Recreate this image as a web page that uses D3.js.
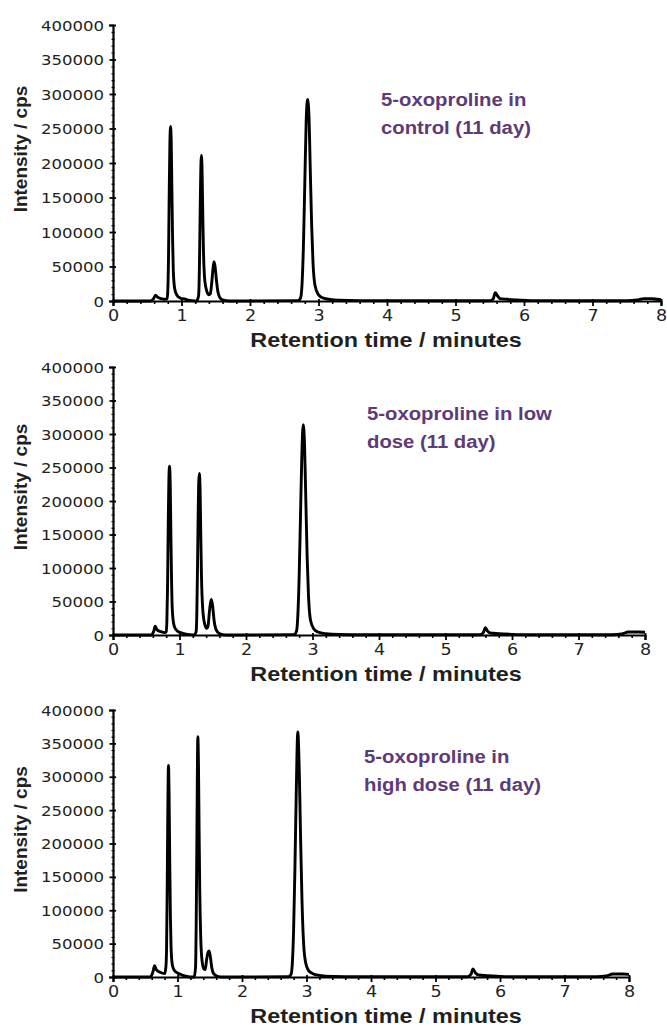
<!DOCTYPE html>
<html>
<head>
<meta charset="utf-8">
<script src="https://cdn.jsdelivr.net/npm/d3@7"></script>
<style>
  html, body { margin: 0; padding: 0; background: #fff; }
  svg { display: block; }
</style>
</head>
<body>
<svg id="chart" width="667" height="1029"></svg>
<script>
// ---------- DATA ----------
const panelLabels = [
  ["5-oxoproline in", "control (11 day)"],
  ["5-oxoproline in low", "dose (11 day)"],
  ["5-oxoproline in", "high dose (11 day)"]
];
const xTickValues = [0, 1, 2, 3, 4, 5, 6, 7, 8];
const yTickValues = [0, 50000, 100000, 150000, 200000, 250000, 300000, 350000, 400000];
const xTitle = "Retention time / minutes";
const yTitle = "Intensity / cps";

// control (11 day)
const timeControl = [0, 0.55, 0.59, 0.62, 0.65, 0.70, 0.76, 0.79, 0.80, 0.81, 0.82, 0.83, 0.84, 0.85, 0.86, 0.87, 0.88, 0.90, 0.93, 0.97, 1.00, 1.03, 1.07, 1.15, 1.22,
  1.25, 1.26, 1.27, 1.28, 1.29, 1.30, 1.31, 1.32, 1.34, 1.37, 1.40, 1.42, 1.44, 1.46, 1.475, 1.49, 1.51, 1.53, 1.56, 1.60, 1.70,
  2.70, 2.74, 2.76, 2.78, 2.80, 2.82, 2.84, 2.86, 2.88, 2.90, 2.92, 2.95, 3.00, 3.05, 3.15, 3.30, 3.60,
  5.50, 5.55, 5.58, 5.61, 5.65, 5.75, 5.90, 6.10, 7.50, 7.65, 7.75, 7.85, 7.95, 8.00];
const intensityControl = [0, 0, 3000, 8500, 5500, 3500, 2500, 3000, 15000, 60000, 150000, 225000, 253000, 230000, 160000, 90000, 45000, 18000, 9000, 5000, 3500, 3500, 2000, 500, 0,
  8000, 40000, 110000, 180000, 211000, 190000, 130000, 75000, 30000, 14000, 9000, 10000, 25000, 47000, 57000, 50000, 30000, 14000, 5000, 1500, 0,
  500, 5000, 25000, 80000, 170000, 260000, 292000, 270000, 190000, 110000, 55000, 22000, 9000, 5000, 2500, 1000, 500,
  300, 3000, 12000, 8000, 3500, 2500, 1500, 500, 300, 1500, 3500, 3500, 2500, 2000];

// low dose (11 day)
const timeLow = [0, 0.58, 0.61, 0.635, 0.66, 0.72, 0.78, 0.80, 0.81, 0.82, 0.83, 0.84, 0.85, 0.86, 0.87, 0.88, 0.89, 0.91, 0.94, 0.98, 1.05, 1.15, 1.22,
  1.25, 1.26, 1.27, 1.28, 1.29, 1.30, 1.31, 1.32, 1.33, 1.35, 1.38, 1.41, 1.43, 1.45, 1.48, 1.50, 1.52, 1.55, 1.60, 1.70,
  2.72, 2.76, 2.78, 2.80, 2.82, 2.84, 2.86, 2.88, 2.90, 2.92, 2.94, 2.97, 3.02, 3.08, 3.20, 3.40, 3.80,
  5.52, 5.57, 5.60, 5.63, 5.67, 5.80, 6.00, 6.30, 7.50, 7.65, 7.75, 7.90, 8.00];
const intensityLow = [0, 0, 5000, 13000, 8000, 5000, 3500, 5000, 20000, 70000, 160000, 230000, 252000, 228000, 155000, 85000, 42000, 18000, 9000, 5000, 2500, 500, 0,
  5000, 30000, 95000, 175000, 230000, 241000, 215000, 150000, 90000, 38000, 16000, 10000, 14000, 35000, 53000, 42000, 22000, 8000, 2000, 0,
  500, 6000, 30000, 90000, 180000, 270000, 314000, 285000, 200000, 115000, 58000, 22000, 9000, 4500, 2000, 800, 300,
  300, 4000, 11000, 6000, 3000, 2000, 1000, 300, 300, 1500, 4500, 4500, 4000];

// high dose (11 day)
const timeHigh = [0, 0.58, 0.62, 0.645, 0.67, 0.73, 0.80, 0.82, 0.83, 0.84, 0.85, 0.86, 0.87, 0.88, 0.89, 0.90, 0.92, 0.95, 1.00, 1.07, 1.15, 1.22,
  1.26, 1.28, 1.29, 1.30, 1.31, 1.315, 1.325, 1.335, 1.345, 1.36, 1.38, 1.41, 1.43, 1.45, 1.47, 1.49, 1.51, 1.53, 1.56, 1.62, 1.70,
  2.72, 2.76, 2.78, 2.80, 2.82, 2.84, 2.865, 2.89, 2.91, 2.93, 2.95, 2.98, 3.03, 3.10, 3.20, 3.40, 3.80,
  5.50, 5.55, 5.58, 5.62, 5.67, 5.80, 6.00, 6.30, 7.50, 7.65, 7.75, 7.90, 8.00];
const intensityHigh = [0, 0, 8000, 17000, 11000, 7000, 5000, 15000, 40000, 130000, 250000, 317000, 270000, 170000, 90000, 45000, 18000, 10000, 6000, 3000, 800, 0,
  0, 15000, 80000, 200000, 330000, 360000, 320000, 220000, 130000, 60000, 25000, 12000, 11000, 25000, 36000, 39000, 30000, 15000, 5000, 1000, 0,
  300, 4000, 20000, 70000, 160000, 270000, 367000, 300000, 200000, 115000, 60000, 25000, 10000, 5000, 2500, 800, 300,
  300, 4000, 12000, 6000, 3000, 2000, 1000, 300, 300, 1500, 4500, 4500, 4000];

const seriesTimes = [timeControl, timeLow, timeHigh];
const seriesIntensities = [intensityControl, intensityLow, intensityHigh];

// ---------- LAYOUT ----------
const panels = [
  { left: 113, right: 661, top: 25,  bottom: 301, labelX: 381, labelY: 106 },
  { left: 113, right: 645, top: 367, bottom: 635, labelX: 367, labelY: 420 },
  { left: 113, right: 629, top: 710, bottom: 977, labelX: 364, labelY: 763 }
];
const SX = 1.18;       // horizontal stretch of the original picture's text
const textColor = "#231f20";
const labelColor = "#5e3a78";

const svg = d3.select("#chart");
svg.append("rect").attr("width", 667).attr("height", 1029).attr("fill", "#fff");

panels.forEach((p, i) => {
  const x = d3.scaleLinear().domain([0, 8]).range([p.left, p.right]);
  const y = d3.scaleLinear().domain([0, 400000]).range([p.bottom, p.top]);
  const g = svg.append("g");

  // trace
  const pts = seriesTimes[i].map((t, k) => [t, seriesIntensities[i][k]]);
  g.append("path")
    .datum(pts)
    .attr("fill", "none")
    .attr("stroke", "#000")
    .attr("stroke-width", 2.9)
    .attr("stroke-linejoin", "round")
    .attr("d", d3.line().x(d => x(d[0])).y(d => y(d[1])).curve(d3.curveMonotoneX));

  // minor ticks
  const xMinor = d3.range(0, 8.0001, 0.2).filter(v => Math.abs(v - Math.round(v)) > 1e-6);
  const yMinor = d3.range(0, 400001, 10000).filter(v => v % 50000 !== 0);
  const gxMinor = g.append("g").attr("transform", `translate(0,${p.bottom})`)
    .call(d3.axisBottom(x).tickValues(xMinor).tickSize(3).tickFormat(""));
  gxMinor.select(".domain").remove();
  gxMinor.selectAll("line").attr("stroke", "#000").attr("stroke-width", 1.6);
  const gyMinor = g.append("g").attr("transform", `translate(${p.left},0)`)
    .call(d3.axisLeft(y).tickValues(yMinor).tickSize(2).tickFormat(""));
  gyMinor.select(".domain").remove();
  gyMinor.selectAll("line").attr("x1", 1.5).attr("x2", -1.5).attr("stroke", "#000").attr("stroke-width", 1.2);

  // x axis
  const gx = g.append("g").attr("transform", `translate(0,${p.bottom})`)
    .call(d3.axisBottom(x).tickValues(xTickValues).tickSizeOuter(0).tickSize(5));
  gx.select(".domain").attr("stroke", "#000").attr("stroke-width", 2.2);
  gx.selectAll(".tick line").attr("y1", -2).attr("y2", 5).attr("stroke", "#000").attr("stroke-width", 1.8);
  gx.selectAll(".tick text")
    .attr("y", null).attr("dy", null)
    .attr("transform", `translate(0,19.5) scale(1.1,1)`)
    .attr("font-family", "'DejaVu Sans', Verdana, sans-serif")
    .attr("font-size", 16).attr("fill", textColor);

  // y axis
  const gy = g.append("g").attr("transform", `translate(${p.left},0)`)
    .call(d3.axisLeft(y).tickValues(yTickValues).tickSizeOuter(0).tickSize(4).tickFormat(d3.format("d")));
  gy.select(".domain").attr("stroke", "#000").attr("stroke-width", 2.2);
  gy.selectAll(".tick line").attr("x1", 3).attr("x2", -3.5).attr("stroke", "#000").attr("stroke-width", 1.8);
  gy.selectAll(".tick text")
    .attr("x", null).attr("dy", "0.36em")
    .attr("transform", `translate(-9,0) scale(${SX},1)`)
    .attr("font-family", "'DejaVu Sans', Verdana, sans-serif")
    .attr("font-size", 14).attr("fill", textColor);

  // axis titles
  g.append("text")
    .attr("transform", `translate(386,${p.bottom + 45.7}) scale(1.2,1)`)
    .attr("text-anchor", "middle")
    .attr("font-family", "'Liberation Sans', Arial, sans-serif")
    .attr("font-weight", "bold").attr("font-size", 19.5)
    .attr("fill", textColor)
    .text(xTitle);

  g.append("text")
    .attr("transform", `translate(27,${(p.top + p.bottom) / 2 - 14}) rotate(-90)`)
    .attr("text-anchor", "middle")
    .attr("font-family", "'Liberation Sans', Arial, sans-serif")
    .attr("font-weight", "bold").attr("font-size", 19)
    .attr("fill", textColor)
    .text(yTitle);

  // panel label
  panelLabels[i].forEach((line, j) => {
    g.append("text")
      .attr("transform", `translate(${p.labelX},${p.labelY + j * 27.5}) scale(1.16,1)`)
      .attr("font-family", "'Liberation Sans', Arial, sans-serif")
      .attr("font-weight", "bold").attr("font-size", 17.5)
      .attr("fill", labelColor)
      .text(line);
  });
});
</script>
</body>
</html>
